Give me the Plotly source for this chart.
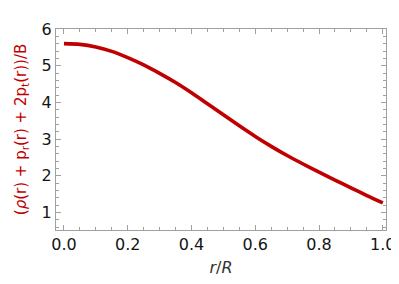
import plotly.graph_objects as go

r_vals = [0.0, 0.05, 0.10, 0.15, 0.20, 0.25, 0.30, 0.35, 0.40, 0.45, 0.50,
          0.55, 0.60, 0.65, 0.70, 0.75, 0.80, 0.85, 0.90, 0.95, 1.00]
y_vals = [5.60, 5.58, 5.51, 5.39, 5.22, 5.02, 4.79, 4.54, 4.26, 3.96, 3.66,
          3.36, 3.07, 2.80, 2.55, 2.32, 2.10, 1.88, 1.67, 1.46, 1.26]
x_ticks = [0.0, 0.2, 0.4, 0.6, 0.8, 1.0]
x_tick_text = ["0.0", "0.2", "0.4", "0.6", "0.8", "1.0"]
y_ticks = [1, 2, 3, 4, 5, 6]

fig = go.Figure()
fig.add_trace(go.Scatter(x=r_vals, y=y_vals, mode="lines",
                         line=dict(color="#c00000", width=3.6, shape="spline", smoothing=0.7),
                         showlegend=False, hoverinfo="skip"))

axis_common = dict(showline=True, linecolor="#a0a0a0", linewidth=1, mirror="ticks",
                   ticks="inside", ticklen=5, tickcolor="#a0a0a0", tickwidth=1,
                   showgrid=False, zeroline=False,
                   tickfont=dict(family="DejaVu Sans", size=16, color="#151515"))

fig.update_xaxes(range=[-0.025, 1.01], tickvals=x_ticks, ticktext=x_tick_text,
                 minor=dict(dtick=0.05, ticks="inside", ticklen=3, tickcolor="#a0a0a0"),
                 title=dict(text="<i>r</i>/<i>R</i>", standoff=8,
                            font=dict(family="DejaVu Sans", size=16, color="#333333")),
                 **axis_common)
fig.update_yaxes(range=[0.52, 6.0], tickvals=y_ticks,
                 minor=dict(dtick=0.2, ticks="inside", ticklen=3, tickcolor="#a0a0a0"),
                 title=dict(text="(<i>ρ</i>(r) + p<sub>r</sub>(r) + 2p<sub>t</sub>(r))/B", standoff=11,
                            font=dict(family="DejaVu Sans", size=15, color="#c00000")),
                 **axis_common)

fig.update_layout(width=399, height=284, margin=dict(l=47, r=12, t=13, b=62),
                  paper_bgcolor="white", plot_bgcolor="white")
fig.write_html("out.html")
